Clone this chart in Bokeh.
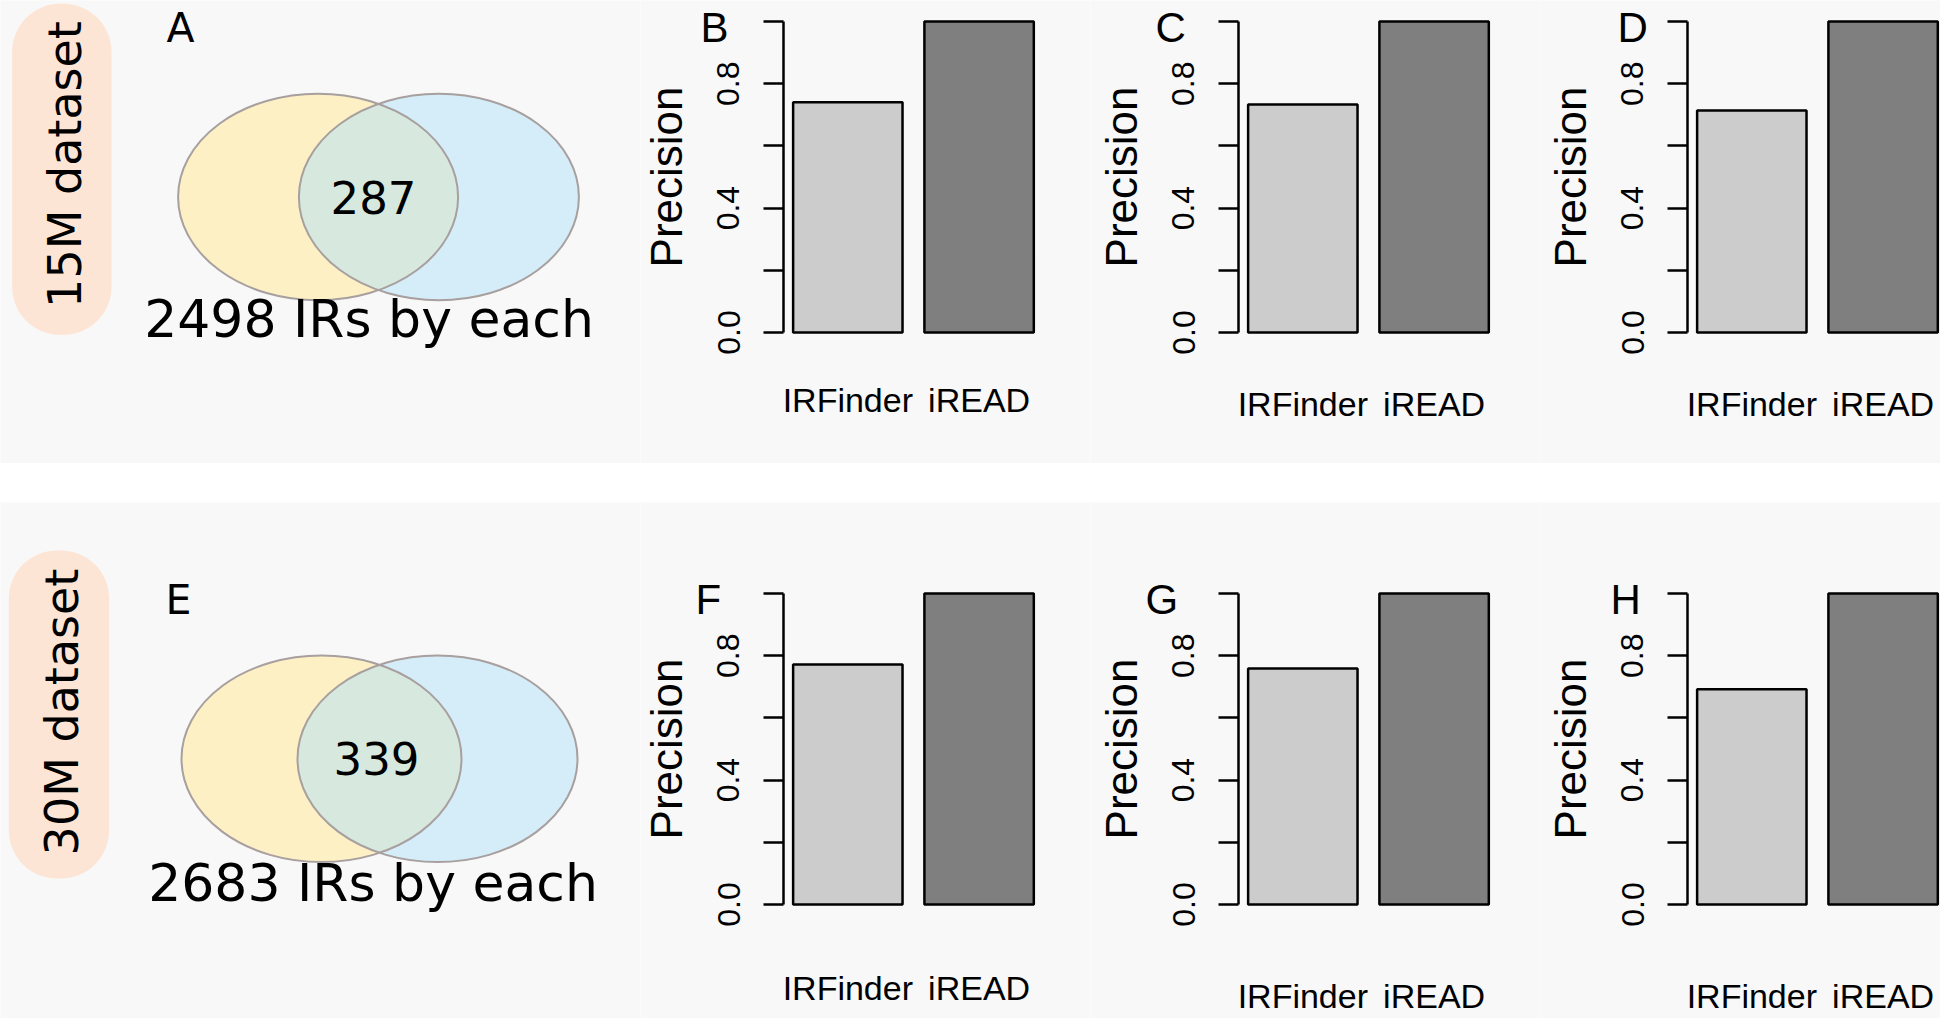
import math
from bokeh.plotting import figure
from bokeh.models import Range1d, FixedTicker, Label, Spacer
from bokeh.layouts import row, column
from bokeh.core.properties import value
from bokeh.embed import file_html
from bokeh.resources import INLINE

# ---------------- data ----------------
datasets = ["15M dataset", "30M dataset"]
irs_by_each = [2498, 2683]
shared_irs = [287, 339]
venn_letters = ["A", "E"]
bar_letters = [["B", "C", "D"], ["F", "G", "H"]]
methods = ["IRFinder", "iREAD"]
precision_15M = [[0.740, 1.0], [0.733, 1.0], [0.714, 1.0]]
precision_30M = [[0.772, 1.0], [0.759, 1.0], [0.692, 1.0]]
precision = [precision_15M, precision_30M]
y_ticks = [0.0, 0.2, 0.4, 0.6, 0.8, 1.0]
y_tick_labels = ["0.0", "", "0.4", "", "0.8", ""]

# ---------------- styles / layout ----------------
PANEL_BG = "#f8f8f8"
PILL = "#fde5d6"
YELLOW = "#fcf0c4"
BLUE = "#aee1fa"
BLUE_ALPHA = 0.47
VENN_LINE = "#a89f9f"
BAR_FILLS = ["#cccccc", "#7f7f7f"]
DEJAVU = "DejaVu Sans"
SANS = "Liberation Sans"

ROW_H = [463, 516]
GAP = 39
VENN_W = 640
XS, YS = 140.0, 103.3           # px per venn unit
VENN_CX = [378.0, 379.0]
VENN_CY = [196.5, 256.3]
VENN_HALF = [60.4, 58.0]         # px, half distance of circle centres
PILL_BOX = [(11.6, 111.0, 3.3, 334.3), (8.3, 108.6, 48.0, 376.0)]
PILL_TXT = [(64, 164), (61, 209.5)]
COUNT_DX = [-5, -3]
CAPTION_MID = [318, 380.5]
CAPTION_DX = [-9.5, -6.5]
LETTER_MID = [27, 97]
VENN_LETTER_X = [166, 165]

BAR_W = [450, 450, 400]
AXIS_X = [143, 148, 147]         # px of the y axis inside each bar figure
ONE_Y = [21.0, 91.0]             # px of y = 1.0 inside each row
SX, SY = 109.4, 311.0            # px per unit
X0 = 0.112                       # R-style plot region start
BAR_LETTER_X = [[60, 65, 77], [55, 55, 70]]
XLAB_STANDOFF = [[42, 46, 46], [58, 66, 66]]


def venn_panel(k):
    H = ROW_H[k]
    cx, cy = VENN_CX[k], VENN_CY[k]
    p = figure(width=VENN_W, height=H, output_backend="svg", toolbar_location=None,
               x_range=Range1d(-cx / XS, (VENN_W - cx) / XS),
               y_range=Range1d(-(H - cy) / YS, cy / YS),
               x_axis_location=None, y_axis_location=None, min_border=0,
               background_fill_color=PANEL_BG, border_fill_color=PANEL_BG,
               outline_line_color=None)
    p.grid.visible = False

    x0, x1, y0, y1 = PILL_BOX[k]
    p.quad(left=[(x0 - cx) / XS], right=[(x1 - cx) / XS], top=[(cy - y0) / YS],
           bottom=[(cy - y1) / YS], fill_color=PILL, line_color=None, border_radius=48)
    p.add_layout(Label(x=PILL_TXT[k][0], y=H - PILL_TXT[k][1], x_units="screen", y_units="screen",
                       text=datasets[k], angle=math.pi / 2, text_align="center",
                       text_baseline="middle", text_font=DEJAVU, text_font_size="46px",
                       text_color="black"))

    sizes = [irs_by_each[k], irs_by_each[k]]
    r = [math.sqrt(s / max(sizes)) for s in sizes]
    h = VENN_HALF[k] / XS
    p.ellipse(x=[-h], y=[0], width=[2 * r[0]], height=[2 * r[0]], fill_color=YELLOW,
              line_color=None)
    p.ellipse(x=[h], y=[0], width=[2 * r[1]], height=[2 * r[1]], fill_color=BLUE,
              fill_alpha=BLUE_ALPHA, line_color=None)
    p.ellipse(x=[-h, h], y=[0, 0], width=[2 * r[0], 2 * r[1]], height=[2 * r[0], 2 * r[1]],
              fill_color=None, line_color=VENN_LINE, line_width=2)

    p.text(x=[0], y=[0], text=[str(shared_irs[k])], x_offset=COUNT_DX[k], text_align="center",
           text_baseline="middle", text_font=value(DEJAVU), text_font_size="45px",
           text_color="black")
    p.text(x=[0], y=[(cy - CAPTION_MID[k]) / YS], text=[f"{irs_by_each[k]} IRs by each"],
           x_offset=CAPTION_DX[k], text_align="center", text_baseline="middle",
           text_font=value(DEJAVU), text_font_size="52px", text_color="black")
    p.add_layout(Label(x=VENN_LETTER_X[k], y=H - LETTER_MID[k], x_units="screen",
                       y_units="screen", text=venn_letters[k], text_font=DEJAVU,
                       text_font_size="41px", text_baseline="middle",
                       text_color="black"))
    return p


def bar_panel(k, j):
    H, W = ROW_H[k], BAR_W[j]
    vals = precision[k][j]
    xs = X0 - AXIS_X[j] / SX
    y_top = 1.0 + ONE_Y[k] / SY
    p = figure(width=W, height=H, output_backend="svg", toolbar_location=None,
               x_range=Range1d(xs, xs + W / SX), y_range=Range1d(y_top - H / SY, y_top),
               min_border=0, background_fill_color=PANEL_BG, border_fill_color=PANEL_BG,
               outline_line_color=None)
    p.grid.visible = False
    centers = [0.7 + 1.2 * i for i in range(len(methods))]
    p.vbar(x=centers, top=vals, bottom=0, width=1.0, fill_color=BAR_FILLS,
           line_color="black", line_width=2.5)

    ya = p.yaxis[0]
    ya.fixed_location = X0
    ya.ticker = FixedTicker(ticks=y_ticks)
    ya.major_label_overrides = dict(zip(y_ticks, y_tick_labels))
    ya.bounds = (0, 1)
    ya.axis_line_width = 2.5
    ya.axis_line_color = "black"
    ya.major_tick_line_width = 2.5
    ya.major_tick_line_color = "black"
    ya.major_tick_out = 20
    ya.major_tick_in = 0
    ya.minor_tick_line_color = None
    ya.major_label_orientation = "vertical"
    ya.major_label_standoff = 24
    ya.major_label_text_font = SANS
    ya.major_label_text_font_size = "32px"
    ya.major_label_text_color = "black"
    ya.axis_label = "Precision"
    ya.axis_label_text_font = SANS
    ya.axis_label_text_font_size = "44px"
    ya.axis_label_text_font_style = "normal"
    ya.axis_label_text_color = "black"
    ya.axis_label_standoff = 24

    xa = p.xaxis[0]
    xa.fixed_location = 0
    xa.ticker = FixedTicker(ticks=centers)
    xa.major_label_overrides = dict(zip(centers, methods))
    xa.axis_line_color = None
    xa.major_tick_line_color = None
    xa.minor_tick_line_color = None
    xa.major_label_standoff = XLAB_STANDOFF[k][j]
    xa.major_label_text_font = SANS
    xa.major_label_text_font_size = "34px"
    xa.major_label_text_color = "black"

    p.add_layout(Label(x=BAR_LETTER_X[k][j], y=H - LETTER_MID[k],
                       x_units="screen", y_units="screen", text=bar_letters[k][j],
                       text_font=SANS, text_font_size="42px",
                       text_baseline="middle", text_color="black"))
    return p


rows = []
for k in range(len(datasets)):
    rows.append(row(venn_panel(k), *[bar_panel(k, j) for j in range(3)]))

layout = column(rows[0], Spacer(width=sum([VENN_W] + BAR_W), height=GAP), rows[1])

open("out.html", "w").write(file_html(layout, INLINE, title="IR precision"))
